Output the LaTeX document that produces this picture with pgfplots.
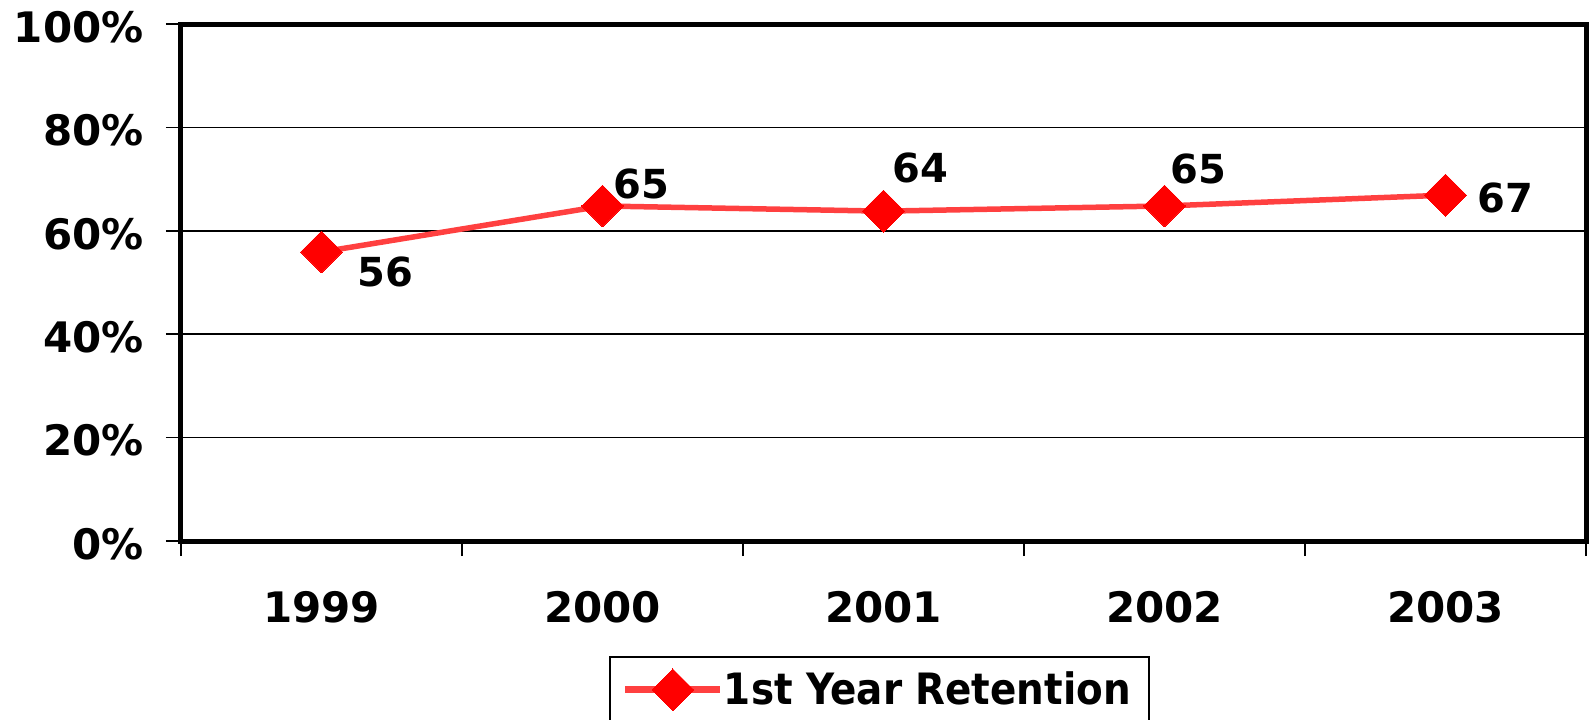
\documentclass[border=0pt]{standalone}
\usepackage{pgfplots}
\pgfplotsset{compat=1.18}
\usepackage{fontspec}
\setmainfont{DejaVu Sans}
\newfontfamily\condf{DejaVu Sans Condensed}
\definecolor{lred}{RGB}{255,64,64}
\definecolor{mred}{RGB}{255,0,0}
\pgfplotsset{
  lab/.style 2 args={draw=none, mark=none, forget plot, point meta=explicit symbolic,
    nodes near coords,
    every node near coord/.style={anchor=center, inner sep=0pt, xshift=#1, yshift=#2,
      text=black, font=\bfseries\fontsize{20}{24}\selectfont}},
}
\begin{document}
\begin{tikzpicture}
\begin{axis}[
  scale only axis, width=702.5pt, height=258.5pt,
  at={(0,0)}, anchor=south west,
  xmin=-0.5, xmax=4.5, ymin=0, ymax=100,
  xtick={-0.5,0.5,1.5,2.5,3.5,4.5},
  x tick label as interval,
  xticklabels={1999,2000,2001,2002,2003},
  ytick={0,20,40,60,80,100},
  yticklabels={0\%,20\%,40\%,60\%,80\%,100\%},
  xtick pos=bottom, ytick pos=left,
  tick align=outside, major tick length=7.5pt,
  tick style={black, line width=0.75pt},
  ymajorgrids, grid style={black, line width=0.75pt},
  axis line style={black, line width=2.5pt},
  xticklabel style={font=\bfseries\fontsize{21}{24}\selectfont, anchor=north, inner sep=0pt, yshift=-17.5pt},
  yticklabel style={font=\bfseries\fontsize{21}{24}\selectfont, anchor=east, inner sep=0pt, xshift=-11pt, yshift=-1.5pt},
  clip=false,
  legend style={at={(0.3046,-0.2224)}, anchor=north west, draw=black, line width=1pt,
    inner xsep=6pt, inner ysep=6pt,
    font=\condf\bfseries\fontsize{21.6}{24}\selectfont,
    nodes={inner sep=0pt},
    /tikz/every even column/.append style={column sep=5.5pt}},
  legend cell align=left,
  legend image code/.code={
    \draw[#1, mark repeat=2, mark phase=2, line width=3.5pt] plot coordinates {(0pt,0pt) (23.75pt,0pt) (47.5pt,0pt)};
  },
]
\addplot[color=lred, line width=2.75pt,
  mark=square*, mark size=7.4pt,
  mark options={rotate=45, fill=mred, draw=mred, line width=0pt, solid},
] coordinates {(0,55.9) (1,64.8) (2,63.8) (3,64.8) (4,66.9)};
\addlegendentry{1st Year Retention\hspace*{3pt}}
\addplot[lab={32pt}{-9.75pt}] coordinates {(0,55.9) [56]};
\addplot[lab={19.25pt}{11.25pt}] coordinates {(1,64.8) [65]};
\addplot[lab={18.25pt}{21.5pt}] coordinates {(2,63.8) [64]};
\addplot[lab={16.75pt}{18.5pt}] coordinates {(3,64.8) [65]};
\addplot[lab={29.75pt}{-1.5pt}] coordinates {(4,66.9) [67]};
\end{axis}
\pgfresetboundingbox
\path (-90.5pt,-89pt) rectangle (705pt,270.5pt);
\end{tikzpicture}
\end{document}
